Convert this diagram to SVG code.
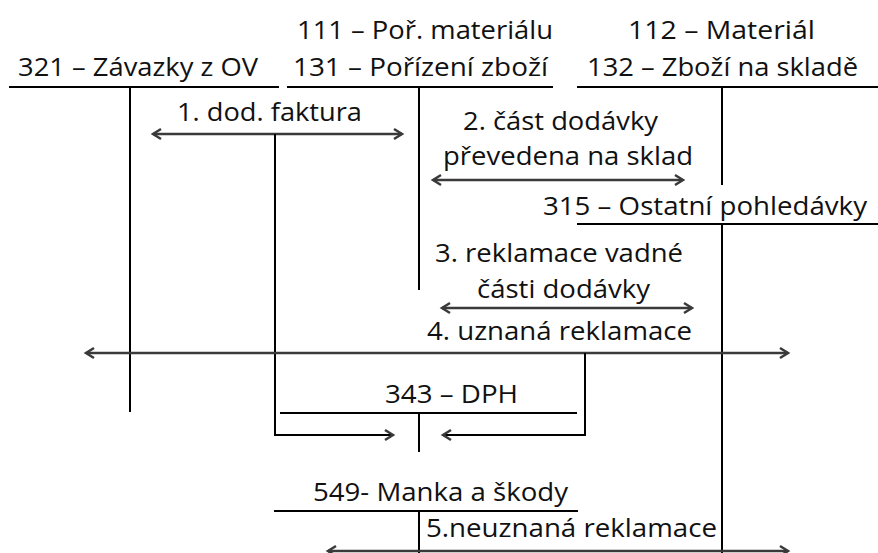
<svg xmlns="http://www.w3.org/2000/svg" width="878" height="553" viewBox="0 0 878 553">
<style>
text{font-family:"Open Sans","Noto Sans","Liberation Sans",sans-serif;font-size:26px;fill:#111;}
.ln{stroke:#000;stroke-width:2;fill:none;}
.ar{stroke:#3a3a3a;stroke-width:2.5;fill:none;}
</style>
<defs>
<marker id="ah" markerUnits="userSpaceOnUse" markerWidth="14" markerHeight="14" refX="10" refY="6" orient="auto-start-reverse" viewBox="0 0 14 12">
<path d="M2,1 L10,6 L2,11" fill="none" stroke="#3a3a3a" stroke-width="2.5"/>
</marker>
</defs>
<rect width="878" height="553" fill="#fff"/>
<g id="acc321">
<text x="18" y="76" textLength="240" lengthAdjust="spacingAndGlyphs">321 – Závazky z OV</text>
<line class="ln" x1="9" y1="87" x2="279" y2="87"/>
<line class="ln" x1="130" y1="87" x2="130" y2="412"/>
</g>
<g id="acc111_131">
<text x="297" y="39" textLength="256" lengthAdjust="spacingAndGlyphs">111 – Poř. materiálu</text>
<text x="293" y="76" textLength="255" lengthAdjust="spacingAndGlyphs">131 – Pořízení zboží</text>
<line class="ln" x1="287" y1="87" x2="553" y2="87"/>
<line class="ln" x1="419" y1="87" x2="419" y2="290"/>
</g>
<g id="acc112_132">
<text x="628" y="39" textLength="187" lengthAdjust="spacingAndGlyphs">112 – Materiál</text>
<text x="587" y="76" textLength="271" lengthAdjust="spacingAndGlyphs">132 – Zboží na skladě</text>
<line class="ln" x1="577" y1="87" x2="878" y2="87"/>
<line class="ln" x1="722" y1="87" x2="722" y2="185"/>
</g>
<g id="acc315">
<text x="543" y="215" textLength="324" lengthAdjust="spacingAndGlyphs">315 – Ostatní pohledávky</text>
<line class="ln" x1="577" y1="224" x2="878" y2="224"/>
<line class="ln" x1="722" y1="224" x2="722" y2="553"/>
</g>
<g id="acc343">
<text x="385" y="403" textLength="133" lengthAdjust="spacingAndGlyphs">343 – DPH</text>
<line class="ln" x1="280" y1="413" x2="577" y2="413"/>
<line class="ln" x1="419" y1="413" x2="419" y2="452"/>
</g>
<g id="acc549">
<text x="313" y="501" textLength="255" lengthAdjust="spacingAndGlyphs">549- Manka a škody</text>
<line class="ln" x1="274" y1="511" x2="578" y2="511"/>
<line class="ln" x1="419" y1="511" x2="419" y2="553"/>
</g>
<g id="connectors">
<text x="177" y="121" textLength="185" lengthAdjust="spacingAndGlyphs">1. dod. faktura</text>
<line class="ar" x1="153" y1="134" x2="402" y2="134" marker-start="url(#ah)" marker-end="url(#ah)"/>
<path class="ln" d="M275,134 V435 H393" marker-end="url(#ah)"/>
<text x="463" y="130" textLength="195" lengthAdjust="spacingAndGlyphs">2. část dodávky</text>
<text x="443" y="165" textLength="250" lengthAdjust="spacingAndGlyphs">převedena na sklad</text>
<line class="ar" x1="433" y1="180" x2="683" y2="180" marker-start="url(#ah)" marker-end="url(#ah)"/>
<text x="435" y="262" textLength="248" lengthAdjust="spacingAndGlyphs">3. reklamace vadné</text>
<text x="477" y="298" textLength="173" lengthAdjust="spacingAndGlyphs">části dodávky</text>
<line class="ar" x1="442" y1="308" x2="692" y2="308" marker-start="url(#ah)" marker-end="url(#ah)"/>
<text x="427" y="340" textLength="265" lengthAdjust="spacingAndGlyphs">4. uznaná reklamace</text>
<line class="ar" x1="86" y1="353" x2="788" y2="353" marker-start="url(#ah)" marker-end="url(#ah)"/>
<path class="ln" d="M585,353 V435 H443" marker-end="url(#ah)"/>
<text x="426" y="537" textLength="291" lengthAdjust="spacingAndGlyphs">5.neuznaná reklamace</text>
<line class="ar" x1="328" y1="551" x2="788" y2="551" marker-start="url(#ah)" marker-end="url(#ah)"/>
</g>
</svg>
